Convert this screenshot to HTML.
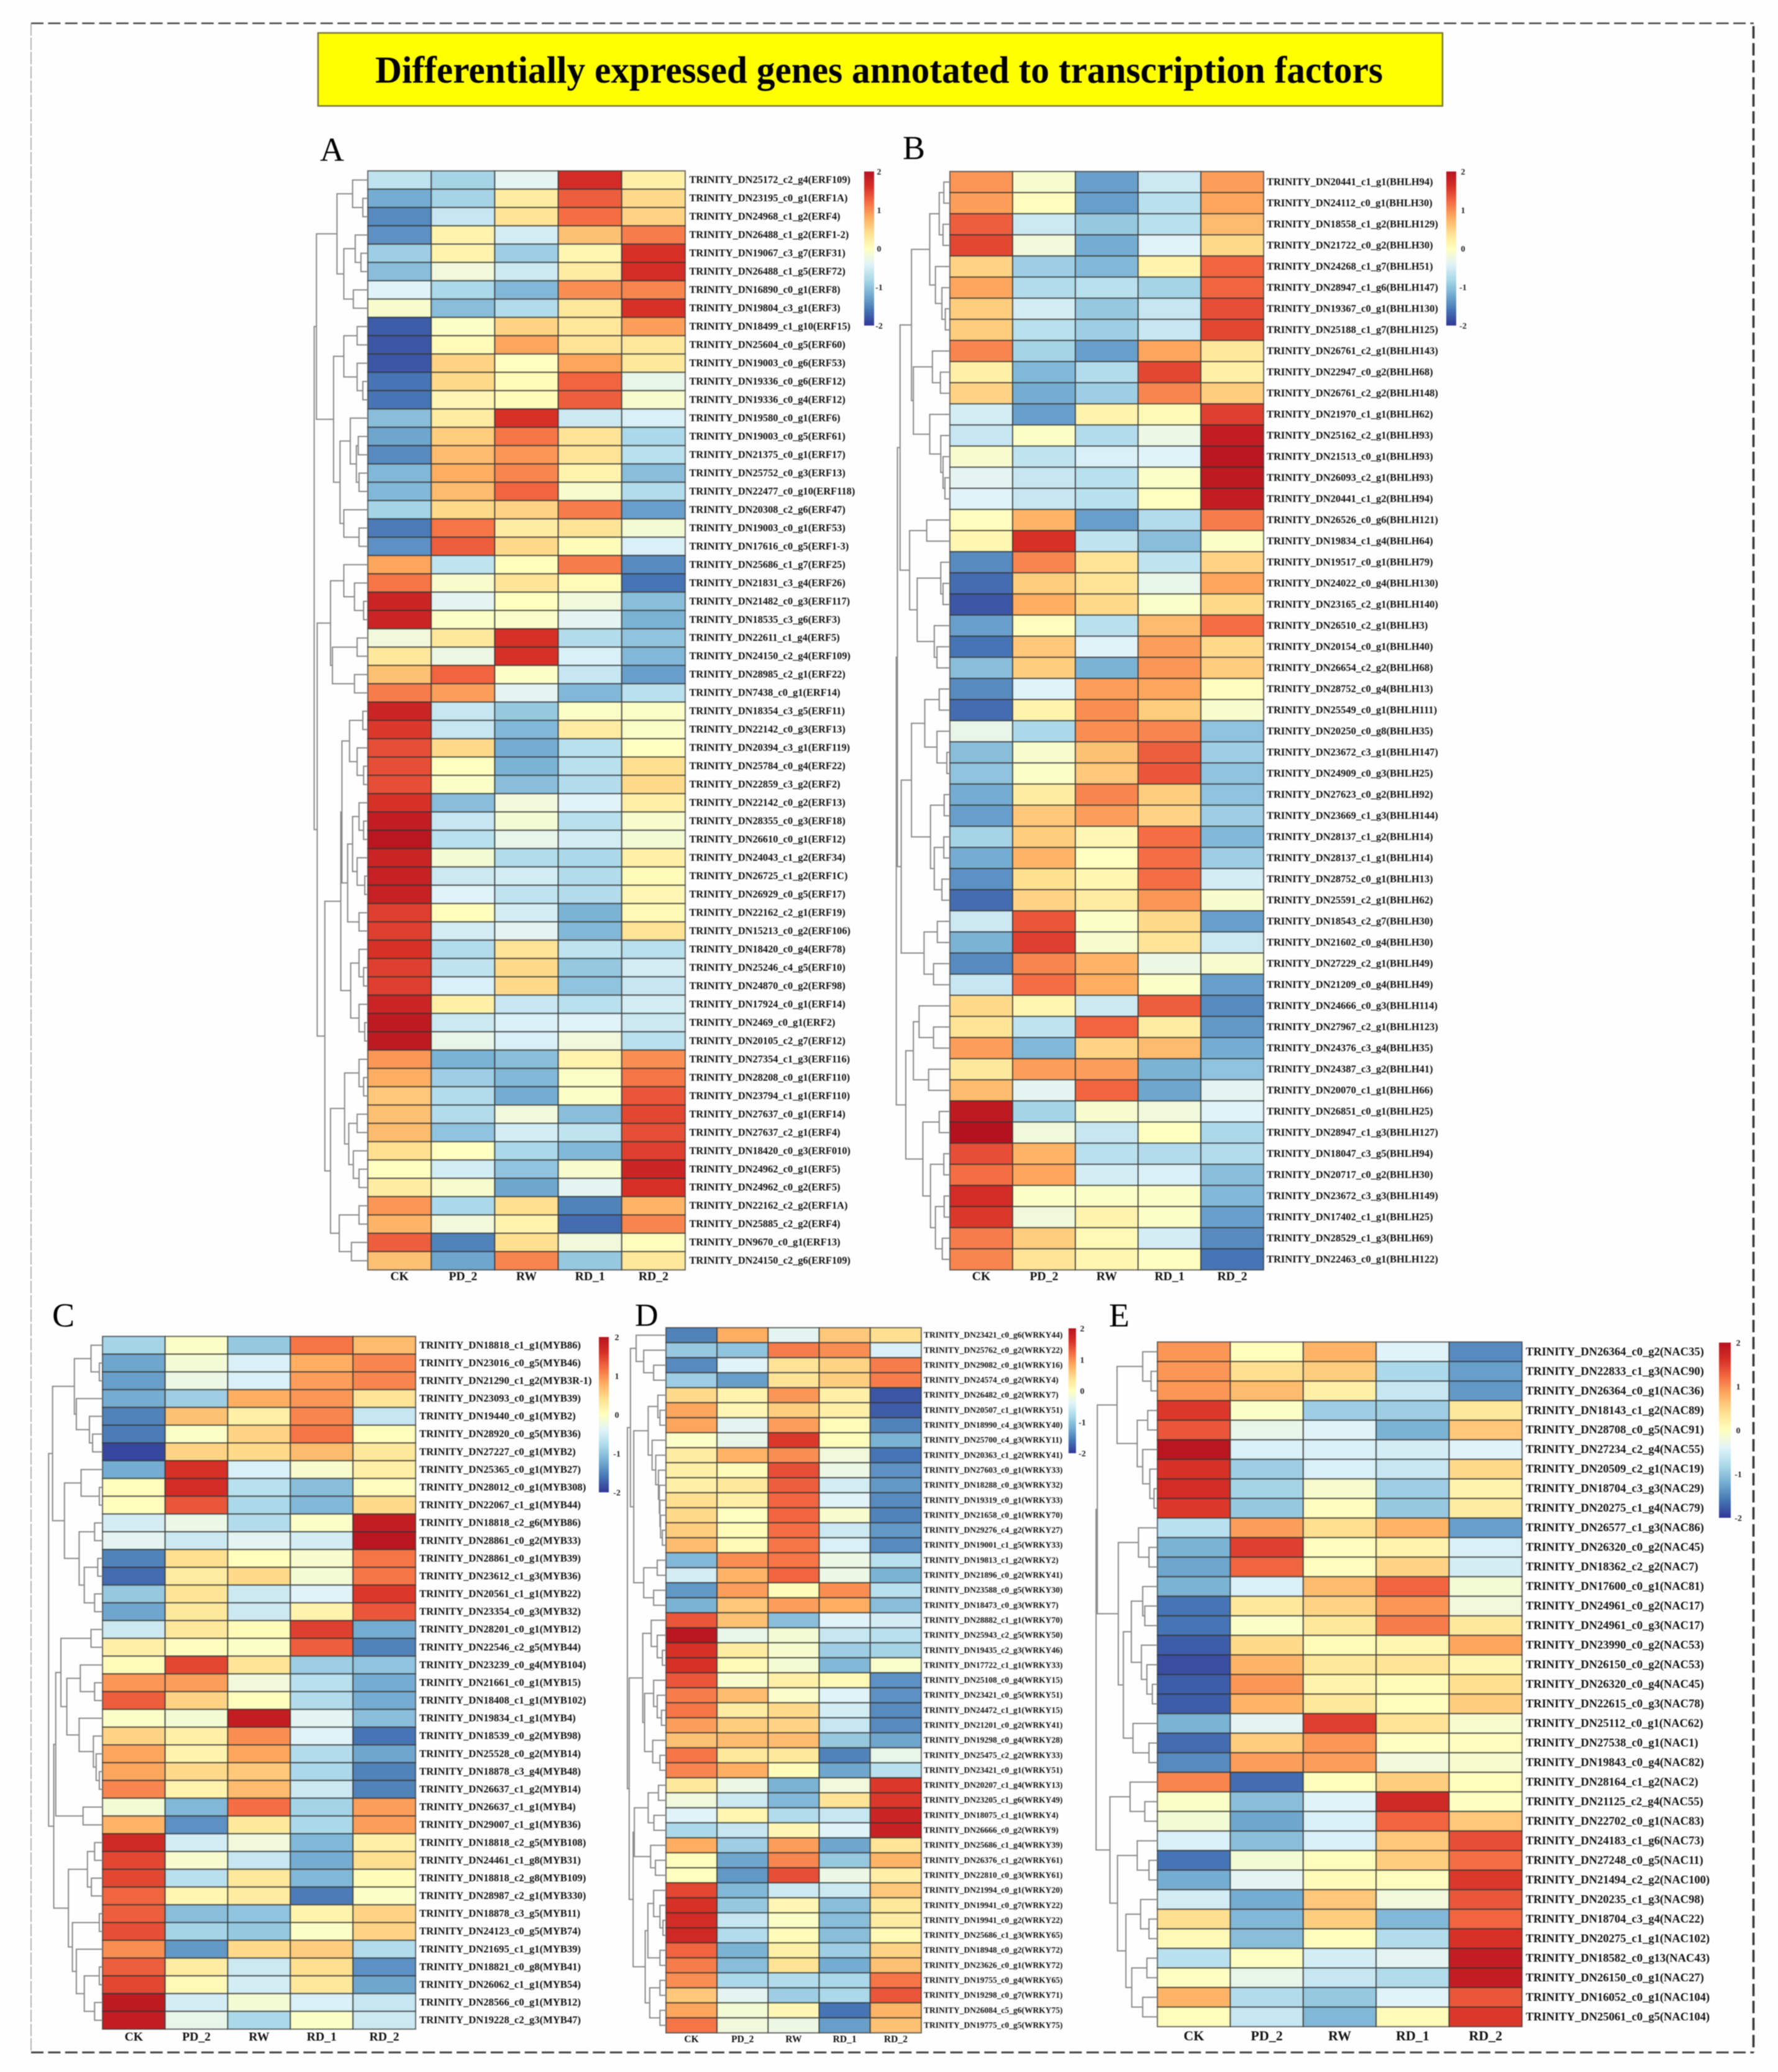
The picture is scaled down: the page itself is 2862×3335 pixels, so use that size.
<!DOCTYPE html>
<html lang="en">
<head>
<meta charset="utf-8">
<title>Differentially expressed genes annotated to transcription factors</title>
<style>
html,body{margin:0;padding:0;background:#fff;width:2862px;height:3335px;overflow:hidden}
svg{display:block;filter:blur(0.8px)}
text{font-family:"Liberation Serif",serif}
</style>
</head>
<body>
<svg id="figure" xmlns="http://www.w3.org/2000/svg" width="2862" height="3335" viewBox="0 0 2862 3335">
  <rect x="0" y="0" width="2862" height="3335" fill="#fefefe"/>
  <line x1="50" y1="37.5" x2="2823" y2="37.5" stroke="#444" stroke-width="2.5" stroke-dasharray="20 7.4"/>
  <line x1="50" y1="3303.5" x2="2823" y2="3303.5" stroke="#444" stroke-width="3" stroke-dasharray="20 7.4"/>
  <line x1="50" y1="37.5" x2="50" y2="3303.5" stroke="#999" stroke-width="1.5" stroke-dasharray="20 3"/>
  <line x1="2822.5" y1="42" x2="2822.5" y2="3303.5" stroke="#333" stroke-width="3.5" stroke-dasharray="20 7.4"/>
  <rect x="512" y="53" width="1810" height="117.5" fill="#ffff00" stroke="#77773a" stroke-width="2.5"/>
  <text x="604" y="133" font-size="61" font-weight="700" fill="#000" textLength="1622" lengthAdjust="spacingAndGlyphs">Differentially expressed genes annotated to transcription factors</text>
  <text x="515" y="259" font-size="54" fill="#000">A</text>
  <text x="1453" y="256" font-size="54" fill="#000">B</text>
  <text x="84" y="2135" font-size="54" fill="#000">C</text>
  <text x="1022" y="2134" font-size="52" fill="#000">D</text>
  <text x="1785" y="2135" font-size="54" fill="#000">E</text>
  <defs id="gradients"></defs>
</svg>
<script>
const columnNames=['CK','PD_2','RW','RD_1','RD_2'];
const legendTicks=[2,1,0,-1,-2];
const colormapColors=['#313695','#4575b4','#74add1','#abd9e9','#e0f3f8','#ffffbf','#fee090','#fdae61','#f46d43','#d73027','#b5121f'];

const labelsA=['TRINITY_DN25172_c2_g4(ERF109)','TRINITY_DN23195_c0_g1(ERF1A)','TRINITY_DN24968_c1_g2(ERF4)','TRINITY_DN26488_c1_g2(ERF1-2)','TRINITY_DN19067_c3_g7(ERF31)','TRINITY_DN26488_c1_g5(ERF72)','TRINITY_DN16890_c0_g1(ERF8)','TRINITY_DN19804_c3_g1(ERF3)','TRINITY_DN18499_c1_g10(ERF15)','TRINITY_DN25604_c0_g5(ERF60)','TRINITY_DN19003_c0_g6(ERF53)','TRINITY_DN19336_c0_g6(ERF12)','TRINITY_DN19336_c0_g4(ERF12)','TRINITY_DN19580_c0_g1(ERF6)','TRINITY_DN19003_c0_g5(ERF61)','TRINITY_DN21375_c0_g1(ERF17)','TRINITY_DN25752_c0_g3(ERF13)','TRINITY_DN22477_c0_g10(ERF118)','TRINITY_DN20308_c2_g6(ERF47)','TRINITY_DN19003_c0_g1(ERF53)','TRINITY_DN17616_c0_g5(ERF1-3)','TRINITY_DN25686_c1_g7(ERF25)','TRINITY_DN21831_c3_g4(ERF26)','TRINITY_DN21482_c0_g3(ERF117)','TRINITY_DN18535_c3_g6(ERF3)','TRINITY_DN22611_c1_g4(ERF5)','TRINITY_DN24150_c2_g4(ERF109)','TRINITY_DN28985_c2_g1(ERF22)','TRINITY_DN7438_c0_g1(ERF14)','TRINITY_DN18354_c3_g5(ERF11)','TRINITY_DN22142_c0_g3(ERF13)','TRINITY_DN20394_c3_g1(ERF119)','TRINITY_DN25784_c0_g4(ERF22)','TRINITY_DN22859_c3_g2(ERF2)','TRINITY_DN22142_c0_g2(ERF13)','TRINITY_DN28355_c0_g3(ERF18)','TRINITY_DN26610_c0_g1(ERF12)','TRINITY_DN24043_c1_g2(ERF34)','TRINITY_DN26725_c1_g2(ERF1C)','TRINITY_DN26929_c0_g5(ERF17)','TRINITY_DN22162_c2_g1(ERF19)','TRINITY_DN15213_c0_g2(ERF106)','TRINITY_DN18420_c0_g4(ERF78)','TRINITY_DN25246_c4_g5(ERF10)','TRINITY_DN24870_c0_g2(ERF98)','TRINITY_DN17924_c0_g1(ERF14)','TRINITY_DN2469_c0_g1(ERF2)','TRINITY_DN20105_c2_g7(ERF12)','TRINITY_DN27354_c1_g3(ERF116)','TRINITY_DN28208_c0_g1(ERF110)','TRINITY_DN23794_c1_g1(ERF110)','TRINITY_DN27637_c0_g1(ERF14)','TRINITY_DN27637_c2_g1(ERF4)','TRINITY_DN18420_c0_g3(ERF010)','TRINITY_DN24962_c0_g1(ERF5)','TRINITY_DN24962_c0_g2(ERF5)','TRINITY_DN22162_c2_g2(ERF1A)','TRINITY_DN25885_c2_g2(ERF4)','TRINITY_DN9670_c0_g1(ERF13)','TRINITY_DN24150_c2_g6(ERF109)'];
const valuesA=[[-.65,-.85,-.35,1.65,.2],[-1.2,-.85,.25,1.3,.45],[-1.45,-.6,.35,1.2,.5],[-1.4,.15,-.5,.65,1.1],[-.9,.15,-.9,.12,1.6],[-1.05,-.2,-.55,.25,1.65],[-.4,-.8,-1.1,1,1.05],[-.1,-1.05,-.75,.3,1.6],[-1.75,-.05,.5,.3,.9],[-1.8,.05,.85,.35,.3],[-1.8,.5,0,.85,.3],[-1.6,.45,.05,1.25,-.3],[-1.6,.1,.05,1.3,-.1],[-1.05,.25,1.6,-.55,-.45],[-1.25,.55,1.15,.35,-.8],[-1.45,.7,.95,.35,-.7],[-1.1,.8,1.05,.15,-1.05],[-1.1,.7,1.25,-.1,-.75],[-.85,.45,.5,1.1,-1.3],[-1.55,1.15,.25,.35,-.15],[-1.4,1.3,.45,.05,-.45],[.85,-.65,.03,1.1,-1.45],[1.15,-.1,.35,.05,-1.6],[1.75,-.35,0,-.2,-1.05],[1.75,-.05,-.07,-.35,-1.15],[-.2,.3,1.6,-.75,-1],[.3,-.25,1.6,-.45,-1.1],[.65,1.25,-.05,-.6,-1.3],[1.1,.9,-.35,-1.1,-.7],[1.75,-.6,-.95,-.05,-.05],[1.55,-.6,-1.1,.25,-.05],[1.4,.45,-1.2,-.7,0],[1.4,0,-1.15,-.7,.4],[1.4,-.05,-1.05,-.75,.45],[1.6,-1.05,-.2,-.4,.2],[1.85,-.6,-.15,-.7,-.1],[1.95,-.7,-.3,-.5,-.15],[1.75,-.15,-.75,-.8,.2],[1.8,-.55,-.5,-.75,.05],[1.8,-.4,-.65,-.75,.1],[1.5,.03,-.5,-1.15,.08],[1.5,-.5,-.35,-1.1,.35],[1.6,-.75,.35,-.65,-.7],[1.5,-.65,.45,-.95,-.5],[1.5,-.45,.45,-1,-.6],[1.75,.2,-.6,-.7,-.5],[1.9,-.55,-.45,-.4,-.55],[1.9,-.3,-.45,-.2,-.7],[.95,-1.15,-1.05,.15,1],[.8,-.9,-1.1,-.05,1.15],[.6,-.75,-1.2,-.05,1.35],[.65,-.75,-.2,-1.05,1.45],[.7,-1,-.5,-.65,1.4],[.4,0,-.8,-1.1,1.5],[0,-.5,-1,-.1,1.75],[.25,-.1,-1.25,-.35,1.6],[.95,-.8,.4,-1.5,.75],[.75,-.2,.15,-1.65,1.05],[1.3,-1.5,.4,-.2,.03],[.65,-1.25,1.05,-.95,.3]];
const treeA=[141,[135,[81,[40,0,[13,0,0]],[63,[33,0,[18,0,0]],[38,0,0]]],[90,[63,[28,0,0],[28,0,[13,0,0]]],[73,[46,0,[30,[25,0,0],[23,0,0]]],[63,0,[23,0,0]]]]],[133,[98,[63,0,[35,0,[11,0,0]]],[93,[28,0,0],[35,0,0]]],[113,[71,[68,[48,[13,0,0],[28,0,[11,0,0]]],[53,[40,[23,0,[11,0,0]],[28,0,[8,0,0]]],[23,0,0]]],[45,[23,0,[11,0,0]],[23,0,[8,0,0]]]],[98,[61,[23,0,[11,0,0]],[50,[28,0,0],[38,0,[23,0,0]]]],[75,[23,0,0],[43,0,0]]]]]];

const labelsB=['TRINITY_DN20441_c1_g1(BHLH94)','TRINITY_DN24112_c0_g1(BHLH30)','TRINITY_DN18558_c1_g2(BHLH129)','TRINITY_DN21722_c0_g2(BHLH30)','TRINITY_DN24268_c1_g7(BHLH51)','TRINITY_DN28947_c1_g6(BHLH147)','TRINITY_DN19367_c0_g1(BHLH130)','TRINITY_DN25188_c1_g7(BHLH125)','TRINITY_DN26761_c2_g1(BHLH143)','TRINITY_DN22947_c0_g2(BHLH68)','TRINITY_DN26761_c2_g2(BHLH148)','TRINITY_DN21970_c1_g1(BHLH62)','TRINITY_DN25162_c2_g1(BHLH93)','TRINITY_DN21513_c0_g1(BHLH93)','TRINITY_DN26093_c2_g1(BHLH93)','TRINITY_DN20441_c1_g2(BHLH94)','TRINITY_DN26526_c0_g6(BHLH121)','TRINITY_DN19834_c1_g4(BHLH64)','TRINITY_DN19517_c0_g1(BHLH79)','TRINITY_DN24022_c0_g4(BHLH130)','TRINITY_DN23165_c2_g1(BHLH140)','TRINITY_DN26510_c2_g1(BHLH3)','TRINITY_DN20154_c0_g1(BHLH40)','TRINITY_DN26654_c2_g2(BHLH68)','TRINITY_DN28752_c0_g4(BHLH13)','TRINITY_DN25549_c0_g1(BHLH111)','TRINITY_DN20250_c0_g8(BHLH35)','TRINITY_DN23672_c3_g1(BHLH147)','TRINITY_DN24909_c0_g3(BHLH25)','TRINITY_DN27623_c0_g2(BHLH92)','TRINITY_DN23669_c1_g3(BHLH144)','TRINITY_DN28137_c1_g2(BHLH14)','TRINITY_DN28137_c1_g1(BHLH14)','TRINITY_DN28752_c0_g1(BHLH13)','TRINITY_DN25591_c2_g1(BHLH62)','TRINITY_DN18543_c2_g7(BHLH30)','TRINITY_DN21602_c0_g4(BHLH30)','TRINITY_DN27229_c2_g1(BHLH49)','TRINITY_DN21209_c0_g4(BHLH49)','TRINITY_DN24666_c0_g3(BHLH114)','TRINITY_DN27967_c2_g1(BHLH123)','TRINITY_DN24376_c3_g4(BHLH35)','TRINITY_DN24387_c3_g2(BHLH41)','TRINITY_DN20070_c1_g1(BHLH66)','TRINITY_DN26851_c0_g1(BHLH25)','TRINITY_DN28947_c1_g3(BHLH127)','TRINITY_DN18047_c3_g5(BHLH94)','TRINITY_DN20717_c0_g2(BHLH30)','TRINITY_DN23672_c3_g3(BHLH149)','TRINITY_DN17402_c1_g1(BHLH25)','TRINITY_DN28529_c1_g3(BHLH69)','TRINITY_DN22463_c0_g1(BHLH122)'];
const valuesB=[[.95,-.1,-1.3,-.55,.9],[.9,.02,-1.3,-.7,.85],[1.3,-.55,-.95,-.7,.7],[1.45,-.2,-1.2,-.4,.45],[.5,-.9,-1.1,.15,1.25],[.85,-.75,-.7,-.85,1.25],[.55,-.5,-.95,-.6,1.4],[.55,-.7,-.9,-.6,1.45],[1.05,-.85,-1.3,.85,.3],[.2,-1.1,-.75,1.45,.2],[.5,-1.2,-.9,1.05,.55],[-.5,-1.3,.15,.08,1.5],[-.6,-.05,-.75,-.25,1.85],[-.1,-.65,-.45,-.4,1.95],[-.35,-.6,-.7,-.05,1.9],[-.4,-.6,-.7,0,1.85],[.02,.75,-1.3,-.75,1.1],[.12,1.6,-.65,-1.05,-.05],[-1.45,1.05,.35,-.65,.5],[-1.65,.55,.35,-.3,.85],[-1.8,.8,.45,-.08,.45],[-1.3,.02,-.7,.7,1.2],[-1.6,.6,-.4,.9,.45],[-1.05,.55,-1.15,.95,.55],[-1.45,-.4,.9,.85,.02],[-1.65,.15,1,.55,-.1],[-.3,-.8,1,1.05,-1],[-1.05,-.1,.65,1.3,-.9],[-1,-.05,.6,1.35,-1],[-1.2,.25,1.05,.55,-1],[-1.3,.6,.9,.5,-.9],[-.85,.55,.1,1.2,-1.1],[-1.2,.75,0,1.2,-.9],[-1.4,.4,.12,1.2,-.5],[-1.65,.5,.25,.95,-.1],[-.55,1.35,-.05,.45,-1.3],[-1.15,1.5,-.1,.35,-.55],[-1.45,1.05,.75,-.25,-.1],[-.6,1.2,.8,-.05,-1.3],[.45,.12,-.55,1.3,-1.45],[.35,-.65,1.25,.25,-1.35],[.9,-1.1,.5,.7,-1.2],[.3,.9,.9,-1.15,-1],[.7,-.35,1.25,-1.25,-.35],[1.9,-.85,-.1,-.2,-.4],[2,-.2,-.6,0,-.8],[1.4,.75,-.7,-.75,-.75],[1.2,.85,-.5,-.45,-1.05],[1.65,-.05,-.05,-.05,-1.1],[1.55,-.2,.15,-.05,-1.3],[1.1,.55,.08,-.5,-1.45],[1.05,.35,.12,-.02,-1.6]];
const treeB=[141,[138,[131,[101,[53,[28,[16,0,0],[18,0,0]],[38,0,[21,0,[12,0,0]]]],[96,[46,0,[25,0,0]],[53,0,[24,0,[18,0,[13,0,0]]]]]],[106,[61,0,0],[86,[24,0,[18,0,0]],[41,0,[34,0,0]]]]],[128,[101,[66,[28,0,0],[34,0,[8,0,0]]],[51,[15,0,0],[41,[16,0,0],[21,0,0]]]],[68,[33,0,0],[43,0,0]]]],[116,[96,[81,0,[43,0,0]],[56,0,0]],[71,[28,0,0],[51,[16,0,0],[38,[15,0,0],[20,0,0]]]]]];

const labelsC=['TRINITY_DN18818_c1_g1(MYB86)','TRINITY_DN23016_c0_g5(MYB46)','TRINITY_DN21290_c1_g2(MYB3R-1)','TRINITY_DN23093_c0_g1(MYB39)','TRINITY_DN19440_c0_g1(MYB2)','TRINITY_DN28920_c0_g5(MYB36)','TRINITY_DN27227_c0_g1(MYB2)','TRINITY_DN25365_c0_g1(MYB27)','TRINITY_DN28012_c0_g1(MYB308)','TRINITY_DN22067_c1_g1(MYB44)','TRINITY_DN18818_c2_g6(MYB86)','TRINITY_DN28861_c0_g2(MYB33)','TRINITY_DN28861_c0_g1(MYB39)','TRINITY_DN23612_c1_g3(MYB36)','TRINITY_DN20561_c1_g1(MYB22)','TRINITY_DN23354_c0_g3(MYB32)','TRINITY_DN28201_c0_g1(MYB12)','TRINITY_DN22546_c2_g5(MYB44)','TRINITY_DN23239_c0_g4(MYB104)','TRINITY_DN21661_c0_g1(MYB15)','TRINITY_DN18408_c1_g1(MYB102)','TRINITY_DN19834_c1_g1(MYB4)','TRINITY_DN18539_c0_g2(MYB98)','TRINITY_DN25528_c0_g2(MYB14)','TRINITY_DN18878_c3_g4(MYB48)','TRINITY_DN26637_c1_g2(MYB14)','TRINITY_DN26637_c1_g1(MYB4)','TRINITY_DN29007_c1_g1(MYB36)','TRINITY_DN18818_c2_g5(MYB108)','TRINITY_DN24461_c1_g8(MYB31)','TRINITY_DN18818_c2_g8(MYB109)','TRINITY_DN28987_c2_g1(MYB330)','TRINITY_DN18878_c3_g5(MYB11)','TRINITY_DN24123_c0_g5(MYB74)','TRINITY_DN21695_c1_g1(MYB39)','TRINITY_DN18821_c0_g8(MYB41)','TRINITY_DN26062_c1_g1(MYB54)','TRINITY_DN28566_c0_g1(MYB12)','TRINITY_DN19228_c2_g3(MYB47)'];
const valuesC=[[-.85,-.05,-.95,1.15,.7],[-1.25,-.15,-.45,.8,1.05],[-1.3,-.25,-.45,.9,1.05],[-1.2,-.9,.8,.95,.35],[-1.5,.65,.2,1.05,-.6],[-1.55,-.05,.5,1.15,.03],[-1.9,.5,.45,.7,.3],[-1.2,1.6,-.45,-.1,.2],[.03,1.65,-.7,-1.05,.02],[.03,1.35,-.8,-1.1,.45],[-.5,-.25,-.75,-.05,1.85],[-.35,-.55,-.35,-.5,1.95],[-1.5,.4,.03,-.1,1.15],[-1.65,.25,.45,-.15,1.15],[-.95,.35,-.55,-.4,1.55],[-1.25,.3,-.55,.15,1.35],[-.55,.3,.05,1.5,-1.2],[.2,.02,-.05,1.3,-1.5],[.05,1.45,.35,-.9,-1],[.95,.9,-.2,-.7,-1.2],[1.3,.5,.03,-.75,-1.2],[-.05,-.15,1.85,-.35,-1.05],[.5,.2,1,-.4,-1.6],[.85,.15,.85,-.75,-1.25],[.85,.45,.6,-.8,-1.5],[1.05,.15,.7,-.55,-1.5],[-.15,-1.1,1.2,-.85,.9],[.75,-1.4,.3,-.8,.9],[1.7,-.5,-.2,-1.1,.2],[1.45,-.1,-.6,-1.2,.4],[1.45,-.7,.3,-1.1,.05],[1.25,.12,.25,-1.55,-.05],[1.3,-1.05,-1,.15,.5],[1.4,-.85,-.95,-.05,.5],[1,-1.35,.45,.55,-.75],[1.3,.25,-.55,.4,-1.4],[1.45,.08,-.5,.3,-1.25],[1.9,-.5,-.15,-.45,-.6],[1.85,-.3,-.8,-.05,-.55]];
const treeC=[136,[126,[71,[29,0,[8,0,0]],[66,0,[33,0,[25,0,0]]]],[96,[54,0,[8,0,0]],[59,[20,0,0],[46,[12,0,0],[20,0,0]]]]],[123,[118,[105,[29,0,0],[90,[56,0,[20,0,0]],[59,0,[23,0,[16,0,[8,0,0]]]]]],[49,0,0]],[86,[38,[20,0,0],[28,0,0]],[76,[8,0,0],[66,0,[46,[8,0,0],[20,0,0]]]]]]];

const labelsD=['TRINITY_DN23421_c0_g6(WRKY44)','TRINITY_DN25762_c0_g2(WRKY22)','TRINITY_DN29082_c0_g1(WRKY16)','TRINITY_DN24574_c0_g2(WRKY4)','TRINITY_DN26482_c0_g2(WRKY7)','TRINITY_DN20507_c1_g1(WRKY51)','TRINITY_DN18990_c4_g3(WRKY40)','TRINITY_DN25700_c4_g3(WRKY11)','TRINITY_DN20363_c1_g2(WRKY41)','TRINITY_DN27603_c0_g1(WRKY33)','TRINITY_DN18288_c0_g3(WRKY32)','TRINITY_DN19319_c0_g1(WRKY33)','TRINITY_DN21658_c0_g1(WRKY70)','TRINITY_DN29276_c4_g2(WRKY27)','TRINITY_DN19001_c1_g5(WRKY33)','TRINITY_DN19813_c1_g2(WRKY2)','TRINITY_DN21896_c0_g2(WRKY41)','TRINITY_DN23588_c0_g5(WRKY30)','TRINITY_DN18473_c0_g3(WRKY7)','TRINITY_DN28882_c1_g1(WRKY70)','TRINITY_DN25943_c2_g5(WRKY50)','TRINITY_DN19435_c2_g3(WRKY46)','TRINITY_DN17722_c1_g1(WRKY33)','TRINITY_DN25108_c0_g4(WRKY15)','TRINITY_DN23421_c0_g5(WRKY51)','TRINITY_DN24472_c1_g1(WRKY15)','TRINITY_DN21201_c0_g2(WRKY41)','TRINITY_DN19298_c0_g4(WRKY28)','TRINITY_DN25475_c2_g2(WRKY33)','TRINITY_DN23421_c0_g1(WRKY51)','TRINITY_DN20207_c1_g4(WRKY13)','TRINITY_DN23205_c1_g6(WRKY49)','TRINITY_DN18075_c1_g1(WRKY4)','TRINITY_DN26666_c0_g2(WRKY9)','TRINITY_DN25686_c1_g4(WRKY39)','TRINITY_DN26376_c1_g2(WRKY61)','TRINITY_DN22810_c0_g3(WRKY61)','TRINITY_DN21994_c0_g1(WRKY20)','TRINITY_DN19941_c0_g7(WRKY22)','TRINITY_DN19941_c0_g2(WRKY22)','TRINITY_DN25686_c1_g3(WRKY65)','TRINITY_DN18948_c0_g2(WRKY72)','TRINITY_DN23626_c0_g1(WRKY72)','TRINITY_DN19755_c0_g4(WRKY65)','TRINITY_DN19298_c0_g7(WRKY71)','TRINITY_DN26084_c5_g6(WRKY75)','TRINITY_DN19775_c0_g5(WRKY75)'];
const valuesD=[[-1.5,.8,-.35,.6,.4],[-.95,-1,1.1,1,-.45],[-1.45,-.4,.35,.5,1.1],[-.9,-1.3,.35,.55,1.1],[.45,.15,.95,.2,-1.8],[.85,.1,.55,.2,-1.75],[.85,-.35,.9,.05,-1.5],[-.05,-.3,1.55,.03,-1.15],[.25,.75,1,-.2,-1.6],[.2,.05,1.4,-.25,-1.4],[.2,.3,1.3,-.5,-1.35],[.4,.2,1.25,-.4,-1.45],[.45,-.02,1.25,-.1,-1.5],[.55,.05,1.2,-.55,-1.35],[.7,.08,1.15,-.45,-1.45],[-1.1,1,1.15,-.25,-.7],[-.5,.75,1.25,-.25,-1.15],[-1.35,.9,.05,1,-.7],[-1.15,.6,.9,.8,-1.05],[1.35,.65,-1.05,-.4,-.5],[1.95,-.3,-.15,-.6,-.7],[1.6,.25,-.1,-.9,-.85],[1.6,.08,-.15,-1.1,-.08],[1.35,-.1,.2,.08,-1.4],[1.1,.7,-.07,-.4,-1.4],[1.15,.25,.45,-.5,-1.45],[.9,.55,.5,-.6,-1.45],[.65,.7,.7,-.95,-1.25],[1.15,.3,.3,-1.5,-.3],[1.05,.8,.05,-1.25,-.7],[.3,-.25,-1.15,-.2,1.55],[-.2,-.55,-1.1,.35,1.55],[-.4,.12,-.75,-.6,1.75],[-.8,-.6,.1,-.4,1.8],[.8,-.9,.9,-1.25,.35],[.03,-1.25,1.05,-.95,.75],[0,-1.35,1.4,-.25,.2],[1.45,-1.1,-.55,-.55,.6],[1.6,-.95,.1,-1.05,.3],[1.65,-.6,-.05,-1.05,.25],[1.7,-.75,.05,-1.05,.08],[1.25,-1.15,.2,-.9,.5],[1.1,-1.05,.35,-1.2,.65],[1,-.8,-.75,-.8,1.15],[.6,-.35,-.9,-.8,1.35],[.85,-.15,.1,-1.6,.75],[1.15,-.2,-.25,-1.3,.65]];
const treeD=[128,[118,[99,0,[74,0,[41,0,0]]],[107,[59,[27,0,[20,0,0]],[46,0,[34,0,[25,0,[22,0,[20,0,[18,0,[12,0,0]]]]]]]],[74,[29,0,0],[41,0,0]]]],[122,[77,[49,0,[29,0,[12,0,0]]],[71,[41,0,[29,0,[15,0,0]]],[44,0,[20,0,0]]]],[109,[105,[59,[25,0,0],[40,0,0]],[51,0,[35,0,0]]],[69,[60,[41,0,[20,0,[10,0,0]]],[20,0,0]],[54,[20,0,0],[20,0,0]]]]]];

const labelsE=['TRINITY_DN26364_c0_g2(NAC35)','TRINITY_DN22833_c1_g3(NAC90)','TRINITY_DN26364_c0_g1(NAC36)','TRINITY_DN18143_c1_g2(NAC89)','TRINITY_DN28708_c0_g5(NAC91)','TRINITY_DN27234_c2_g4(NAC55)','TRINITY_DN20509_c2_g1(NAC19)','TRINITY_DN18704_c3_g3(NAC29)','TRINITY_DN20275_c1_g4(NAC79)','TRINITY_DN26577_c1_g3(NAC86)','TRINITY_DN26320_c0_g2(NAC45)','TRINITY_DN18362_c2_g2(NAC7)','TRINITY_DN17600_c0_g1(NAC81)','TRINITY_DN24961_c0_g2(NAC17)','TRINITY_DN24961_c0_g3(NAC17)','TRINITY_DN23990_c0_g2(NAC53)','TRINITY_DN26150_c0_g2(NAC53)','TRINITY_DN26320_c0_g4(NAC45)','TRINITY_DN22615_c0_g3(NAC78)','TRINITY_DN25112_c0_g1(NAC62)','TRINITY_DN27538_c0_g1(NAC1)','TRINITY_DN19843_c0_g4(NAC82)','TRINITY_DN28164_c1_g2(NAC2)','TRINITY_DN21125_c2_g4(NAC55)','TRINITY_DN22702_c0_g1(NAC83)','TRINITY_DN24183_c1_g6(NAC73)','TRINITY_DN27248_c0_g5(NAC11)','TRINITY_DN21494_c2_g2(NAC100)','TRINITY_DN20235_c1_g3(NAC98)','TRINITY_DN18704_c3_g4(NAC22)','TRINITY_DN20275_c1_g1(NAC102)','TRINITY_DN18582_c0_g13(NAC43)','TRINITY_DN26150_c0_g1(NAC27)','TRINITY_DN16052_c0_g1(NAC104)','TRINITY_DN25061_c0_g5(NAC104)'];
const valuesE=[[.95,.03,.75,-.4,-1.45],[.95,.4,.55,-.8,-1.3],[.95,.7,.2,-.6,-1.35],[1.55,-.05,-.9,-.9,.3],[1.35,-.3,-.4,-1.15,.6],[1.95,-.45,-.45,-.5,-.4],[1.6,-.9,-.45,-.6,.45],[1.65,-.85,-.1,-.9,.15],[1.55,-.95,.02,-.95,.25],[-.7,.9,.4,.75,-1.3],[-1.15,1.5,.02,.15,-.45],[-1.25,1.25,.02,.5,-.5],[-1.15,-.45,.7,1.25,-.15],[-1.6,.3,.5,.95,-.2],[-1.6,-.05,.3,1.1,.3],[-1.75,.45,.05,.12,.85],[-1.85,.75,.3,.35,.12],[-1.75,.95,.15,.05,.4],[-1.75,.75,.3,.03,.55],[-1.15,-.35,1.5,.35,-.1],[-1.65,.55,.95,-.02,.02],[-1.45,.9,.9,-.2,-.1],[1.05,-1.65,.03,.55,.03],[-.05,-1.05,-.4,1.7,-.02],[-.15,-1.25,-.45,1.25,.6],[-.45,-1.05,-.45,.6,1.4],[-1.6,-.15,.03,.55,1.2],[-1.2,-.35,.05,.02,1.55],[-.5,-1.2,.6,-.2,1.35],[.4,-1.1,.55,-1.1,1.25],[.08,-1.05,.03,-.75,1.6],[-.7,-.02,-.5,-.35,1.85],[-.02,-.3,-.6,-.75,1.85],[.75,-.75,-.95,-.4,1.35],[.03,-.6,-1.1,.05,1.55]];
const treeE=[146,[143,[96,[35,0,[15,0,0]],[48,[23,0,0],[35,0,[18,0,[8,0,0]]]]],[93,[45,0,[20,0,0]],[81,[62,[35,0,[30,0,0]],[38,0,[25,0,[12,0,0]]]],[58,0,[20,0,0]]]]],[113,[65,0,[30,0,0]],[95,[48,0,[20,0,0]],[75,[40,0,[20,0,0]],[61,[25,0,0],[35,0,0]]]]]];

const panels=[
 {id:'a',labels:labelsA,values:valuesA,tree:treeA,box:{l:592,r:1103,t:275,b:2044},labelX:1109.5,labelSize:16.4,colY:2054,colSize:19.7,bar:{l:1391,r:1407,t:276,b:524},tickX:1415,treeScale:0.612},
 {id:'b',labels:labelsB,values:valuesB,tree:treeB,box:{l:1529,r:2034,t:276,b:2044},labelX:2039,labelSize:16.5,colY:2054,colSize:19.7,bar:{l:2328,r:2344,t:276,b:524},tickX:2355,treeScale:0.612},
 {id:'c',labels:labelsC,values:valuesC,tree:treeC,box:{l:165,r:669,t:2151,b:3266},labelX:675,labelSize:16.6,colY:3278,colSize:19.7,bar:{l:964,r:980,t:2152,b:2402},tickX:993,treeScale:0.638},
 {id:'d',labels:labelsD,values:valuesD,tree:treeD,box:{l:1072,r:1483,t:2137,b:3272},labelX:1487,labelSize:13.5,colY:3282,colSize:15.6,bar:{l:1720,r:1732,t:2138,b:2339},tickX:1742,treeScale:0.485},
 {id:'e',labels:labelsE,values:valuesE,tree:treeE,box:{l:1863,r:2450,t:2160,b:3262},labelX:2456,labelSize:18.5,colY:3276.5,colSize:22,bar:{l:2767,r:2786,t:2161,b:2443},tickX:2798,treeScale:0.676}
];

const svgNS='http://www.w3.org/2000/svg';
const figure=document.getElementById('figure');

function make(tag,attrs,parent){
  const el=document.createElementNS(svgNS,tag);
  for(const key in attrs){el.setAttribute(key,attrs[key]);}
  parent.appendChild(el);
  return el;
}
function colorScale(value){
  const clamped=Math.max(-2,Math.min(2,value));
  const t=(clamped+2)/4*(colormapColors.length-1);
  const i=Math.min(colormapColors.length-2,Math.floor(t));
  const f=t-i;
  const a=colormapColors[i],b=colormapColors[i+1];
  const channel=(s)=>Math.round(parseInt(a.substr(s,2),16)*(1-f)+parseInt(b.substr(s,2),16)*f);
  return 'rgb('+channel(1)+','+channel(3)+','+channel(5)+')';
}

panels.forEach(function(panel){
  const box=panel.box;
  const rows=panel.values.length;
  const cols=columnNames.length;
  const rowH=(box.b-box.t)/rows;
  const colW=(box.r-box.l)/cols;
  const xBand=(c)=>box.l+c*colW;
  const yBand=(r)=>box.t+r*rowH;
  const xTree=(h)=>box.l-h*panel.treeScale;

  const group=make('g',{},figure);
  
  

  panel.values.forEach(function(row,r){
    row.forEach(function(value,c){
      const cell=make('rect',{x:xBand(c),y:yBand(r),width:colW,height:rowH,fill:colorScale(value),stroke:'#333','stroke-opacity':0.7,'stroke-width':2},group);
      
      
    });
    const label=make('text',{x:panel.labelX,y:yBand(r)+rowH/2+panel.labelSize*0.3,'font-size':panel.labelSize,'font-weight':700,fill:'#111'},group);
    label.textContent=panel.labels[r];
    
    
  });

  columnNames.forEach(function(name,c){
    const colLabel=make('text',{x:xBand(c)+colW/2,y:panel.colY+panel.colSize*0.33,'font-size':panel.colSize,'font-weight':700,'text-anchor':'middle',fill:'#111'},group);
    colLabel.textContent=name;
    
    
  });

  let leaf=0;
  let treePath='';
  function walk(node){
    if(node===0){
      const y=yBand(leaf)+rowH/2;
      leaf+=1;
      return {y:y,h:0};
    }
    const a=walk(node[1]);
    const b=walk(node[2]);
    treePath+='M'+xTree(a.h)+' '+a.y+'H'+xTree(node[0])+'V'+b.y+'H'+xTree(b.h);
    return {y:(a.y+b.y)/2,h:node[0]};
  }
  walk(panel.tree);
  const dendrogram=make('path',{d:treePath,fill:'none',stroke:'#8a8a8a','stroke-width':2},group);
  
  

  const gradient=make('linearGradient',{id:'legend-gradient-'+panel.id,x1:0,y1:1,x2:0,y2:0},document.getElementById('gradients'));
  colormapColors.forEach(function(color,i){
    make('stop',{offset:i/(colormapColors.length-1),'stop-color':color},gradient);
  });
  const bar=panel.bar;
  const legendBar=make('rect',{x:bar.l,y:bar.t,width:bar.r-bar.l,height:bar.b-bar.t,fill:'url(#legend-gradient-'+panel.id+')'},group);
  
  
  const yLegend=(v)=>bar.b-(v+2)/4*(bar.b-bar.t);
  legendTicks.forEach(function(tick){
    const tickLabel=make('text',{x:panel.tickX,y:yLegend(tick)+5,'font-size':14,'font-weight':700,'text-anchor':'middle',fill:'#222'},group);
    tickLabel.textContent=String(tick);
    
    
  });
});
</script>
</body>
</html>
